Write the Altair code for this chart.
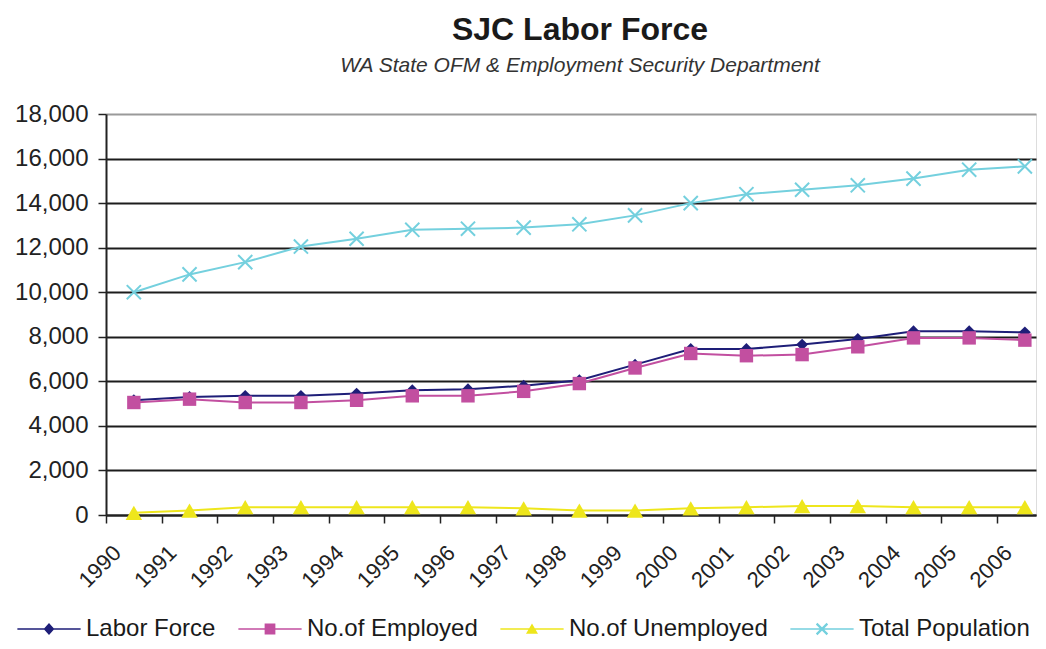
import altair as alt
import pandas as pd

# ---------------- data ----------------
years = list(range(1990, 2007))
labor_force = [5150, 5300, 5350, 5350, 5450, 5600, 5650, 5800, 6050, 6750,
               7450, 7450, 7650, 7900, 8250, 8250, 8200]
employed = [5050, 5200, 5050, 5050, 5150, 5350, 5350, 5550, 5900, 6600,
            7250, 7150, 7200, 7550, 7950, 7950, 7850]
unemployed = [100, 200, 350, 350, 350, 350, 350, 300, 200, 200,
              300, 350, 400, 400, 350, 350, 350]
total_population = [10000, 10800, 11350, 12050, 12400, 12800, 12850, 12900, 13050, 13450,
                    14000, 14400, 14600, 14800, 15100, 15500, 15650]

series_names = ["Labor Force", "No.of Employed", "No.of Unemployed", "Total Population"]
series_values = [labor_force, employed, unemployed, total_population]
series_colors = ["#1E1E78", "#C24FA0", "#EEE61C", "#74D0DE"]

y_ticks = list(range(0, 18001, 2000))
x_boundaries = [y - 0.5 for y in years]
x_axis_values = sorted(set(years + x_boundaries))

rows = []
for name, vals in zip(series_names, series_values):
    for yr, v in zip(years, vals):
        rows.append({"year": yr, "series": name, "value": v})
df = pd.DataFrame(rows)

FONT = "Liberation Sans"

x_enc = alt.X(
    "year:Q",
    title=None,
    scale=alt.Scale(domain=[1989.5, 2006.2], nice=False, zero=False),
    axis=alt.Axis(
        values=x_axis_values,
        labelExpr="datum.value % 1 == 0 ? toString(datum.value) : ''",
        tickOpacity={"condition": {"test": "datum.value % 1 != 0", "value": 1}, "value": 0},
        labelAngle=-45, labelAlign="right", labelBaseline="middle",
        labelOffset=-17, labelPadding=26,
        labelFont=FONT, labelFontSize=22, labelColor="#222222",
        labelOverlap=False, labelFlush=False, labelBound=False,
        tickSize=8, tickColor="#222222", tickWidth=1.5,
        domainColor="#222222", domainWidth=2, grid=False,
    ),
)
y_enc = alt.Y(
    "value:Q",
    title=None,
    scale=alt.Scale(domain=[0, 18000], nice=False),
    axis=alt.Axis(
        values=y_ticks, format=",d",
        labelFont=FONT, labelFontSize=24, labelColor="#222222", labelPadding=10,
        tickSize=8, tickColor="#222222", tickWidth=1.5,
        domainColor="#222222", domainWidth=2,
        gridColor={"condition": {"test": "datum.value == 18000", "value": "#9a9a9a"},
                   "value": "#1c1c1c"},
        gridWidth=2,
    ),
)

marker_shapes = ["diamond", "square", "triangle-up", "M-1,-1L1,1M-1,1L1,-1"]
marker_sizes = [140, 180, 270, 200]
marker_filled = [True, True, True, False]

layers = []
for name, col, shp, sz, fl in zip(series_names, series_colors, marker_shapes,
                                  marker_sizes, marker_filled):
    base = alt.Chart(df).transform_filter(alt.datum.series == name)
    layers.append(base.mark_line(color=col, strokeWidth=2).encode(x=x_enc, y=y_enc))
    layers.append(
        base.mark_point(shape=shp, filled=fl, color=col, size=sz, opacity=1,
                        strokeWidth=2).encode(x=x_enc, y=y_enc)
    )

# legend symbols: line with marker
ln = "M-1,-0.025L1,-0.025L1,0.025L-1,0.025Z"
a, e = 0.17, 0.025
xmark = (f"M{-a+e},{-a-e}L{a+e},{a-e}L{a-e},{a+e}L{-a-e},{-a+e}Z"
         f"M{-a+e},{a+e}L{-a-e},{a-e}L{a-e},{-a-e}L{a+e},{-a+e}Z")
legend_paths = [
    ln + "M0,-0.19L0.17,0L0,0.19L-0.17,0Z",
    ln + "M-0.17,-0.17L0.17,-0.17L0.17,0.17L-0.17,0.17Z",
    ln + "M0,-0.17L0.19,0.15L-0.19,0.15Z",
    ln + xmark,
]

leg = alt.Legend(
    title=None, orient="none", direction="horizontal",
    legendX=-89, legendY=483,
    symbolSize=4000, symbolStrokeWidth=0,
    labelFont=FONT, labelFontSize=24, labelColor="#1a1a1a", labelLimit=400,
    labelOffset=5, columnPadding=22,
)

legend_layer = alt.Chart(df).transform_filter("false").mark_point(
    filled=True, opacity=1, strokeWidth=0
).encode(
    x=x_enc, y=y_enc,
    color=alt.Color("series:N", scale=alt.Scale(domain=series_names, range=series_colors), legend=leg),
    shape=alt.Shape("series:N", scale=alt.Scale(domain=series_names, range=legend_paths), legend=leg),
)
layers.append(legend_layer)

chart = alt.layer(*layers).properties(
    width=930, height=401,
    autosize="none",
    padding={"left": 98, "top": 106, "right": 2, "bottom": 126},
    title=alt.TitleParams(
        "SJC Labor Force",
        subtitle="WA State OFM & Employment Security Department",
        font=FONT, fontSize=32, fontWeight="bold", color="#1a1a1a",
        subtitleFont=FONT, subtitleFontSize=21, subtitleFontStyle="italic",
        subtitleColor="#333333", subtitlePadding=8,
        anchor="middle", dx=9, offset=25,
    ),
).configure_view(fill="#C0C0C0", stroke=None).configure(background="white")

chart.save("out.html", embed_options={"renderer": "svg", "actions": False})
